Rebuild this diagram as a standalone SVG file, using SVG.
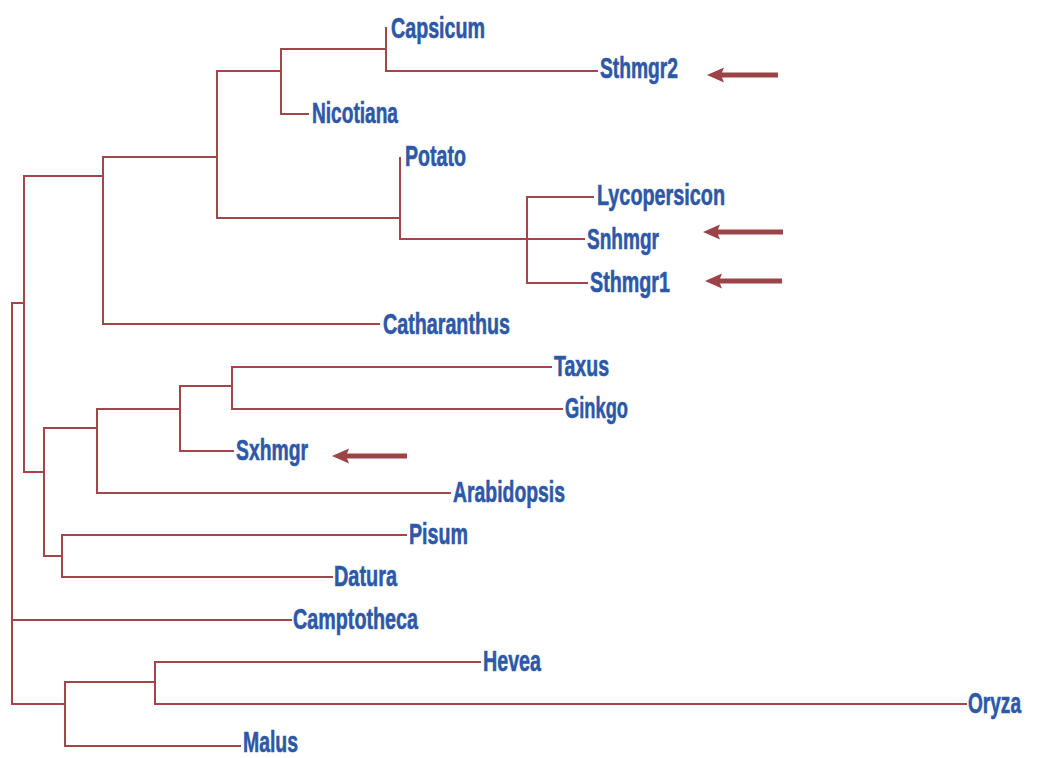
<svg xmlns="http://www.w3.org/2000/svg" width="1037" height="758" viewBox="0 0 1037 758">
<style>
.br{fill:none;stroke:#a3454b;stroke-width:2;stroke-linecap:square}
.lb{font-family:"Liberation Sans",Arial,sans-serif;font-weight:bold;font-size:29px;fill:#2d58a8;stroke:#2d58a8;stroke-width:0.6}
.ar{fill:#9c4347}
</style>
<rect width="1037" height="758" fill="#ffffff"/>
<g id="connectors">
<path class="br" d="M12,303 V704 M12,303 H24 M24,176 V472 M24,176 H103 M103,157 V324 M103,157 H217 M217,71 V218 M217,71 H281 M281,49 V114 M281,49 H386 M386,28 V71 M386,71 H597 M281,114 H308 M217,218 H400 M400,158 V239 M400,239 H584 M527,197 V283 M527,197 H593 M527,283 H587 M103,324 H379"/>
<path class="br" d="M24,472 H44 M44,428 V556 M44,428 H97 M97,409 V493 M97,409 H180 M180,386 V451 M180,386 H232 M232,367 V409 M232,367 H551 M232,409 H562 M180,451 H233 M97,493 H450 M44,556 H62 M62,535 V577 M62,535 H406 M62,577 H332"/>
<path class="br" d="M12,620 H291 M12,704 H65 M65,682 V746 M65,682 H155 M155,662 V704 M155,662 H480 M155,704 H966 M65,746 H240"/>
</g>
<g id="arrows">
<path class="ar" d="M707,75 l17,-7.5 l-2,5 H778 v5 H722 l2,5 Z"/>
<path class="ar" d="M703,232 l17,-7.5 l-2,5 H783 v5 H718 l2,5 Z"/>
<path class="ar" d="M705,281 l17,-7.5 l-2,5 H782 v5 H720 l2,5 Z"/>
<path class="ar" d="M332,456 l17,-7.5 l-2,5 H407 v5 H347 l2,5 Z"/>
</g>
<g id="node-capsicum"><text class="lb" x="391" y="38" textLength="94" lengthAdjust="spacingAndGlyphs">Capsicum</text></g>
<g id="node-sthmgr2"><text class="lb" x="600" y="78" textLength="78" lengthAdjust="spacingAndGlyphs">Sthmgr2</text></g>
<g id="node-nicotiana"><text class="lb" x="312" y="123" textLength="86" lengthAdjust="spacingAndGlyphs">Nicotiana</text></g>
<g id="node-potato"><text class="lb" x="405" y="166" textLength="61" lengthAdjust="spacingAndGlyphs">Potato</text></g>
<g id="node-lycopersicon"><text class="lb" x="597" y="205" textLength="128" lengthAdjust="spacingAndGlyphs">Lycopersicon</text></g>
<g id="node-snhmgr"><text class="lb" x="587" y="249" textLength="72" lengthAdjust="spacingAndGlyphs">Snhmgr</text></g>
<g id="node-sthmgr1"><text class="lb" x="590" y="292" textLength="80" lengthAdjust="spacingAndGlyphs">Sthmgr1</text></g>
<g id="node-catharanthus"><text class="lb" x="383" y="334" textLength="127" lengthAdjust="spacingAndGlyphs">Catharanthus</text></g>
<g id="node-taxus"><text class="lb" x="554" y="376" textLength="55" lengthAdjust="spacingAndGlyphs">Taxus</text></g>
<g id="node-ginkgo"><text class="lb" x="565" y="418" textLength="63" lengthAdjust="spacingAndGlyphs">Ginkgo</text></g>
<g id="node-sxhmgr"><text class="lb" x="236" y="460" textLength="72" lengthAdjust="spacingAndGlyphs">Sxhmgr</text></g>
<g id="node-arabidopsis"><text class="lb" x="453" y="502" textLength="112" lengthAdjust="spacingAndGlyphs">Arabidopsis</text></g>
<g id="node-pisum"><text class="lb" x="409" y="544" textLength="59" lengthAdjust="spacingAndGlyphs">Pisum</text></g>
<g id="node-datura"><text class="lb" x="334" y="586" textLength="63" lengthAdjust="spacingAndGlyphs">Datura</text></g>
<g id="node-camptotheca"><text class="lb" x="293" y="629" textLength="125" lengthAdjust="spacingAndGlyphs">Camptotheca</text></g>
<g id="node-hevea"><text class="lb" x="483" y="671" textLength="58" lengthAdjust="spacingAndGlyphs">Hevea</text></g>
<g id="node-oryza"><text class="lb" x="968" y="713" textLength="53" lengthAdjust="spacingAndGlyphs">Oryza</text></g>
<g id="node-malus"><text class="lb" x="243" y="752" textLength="55" lengthAdjust="spacingAndGlyphs">Malus</text></g>
</svg>
